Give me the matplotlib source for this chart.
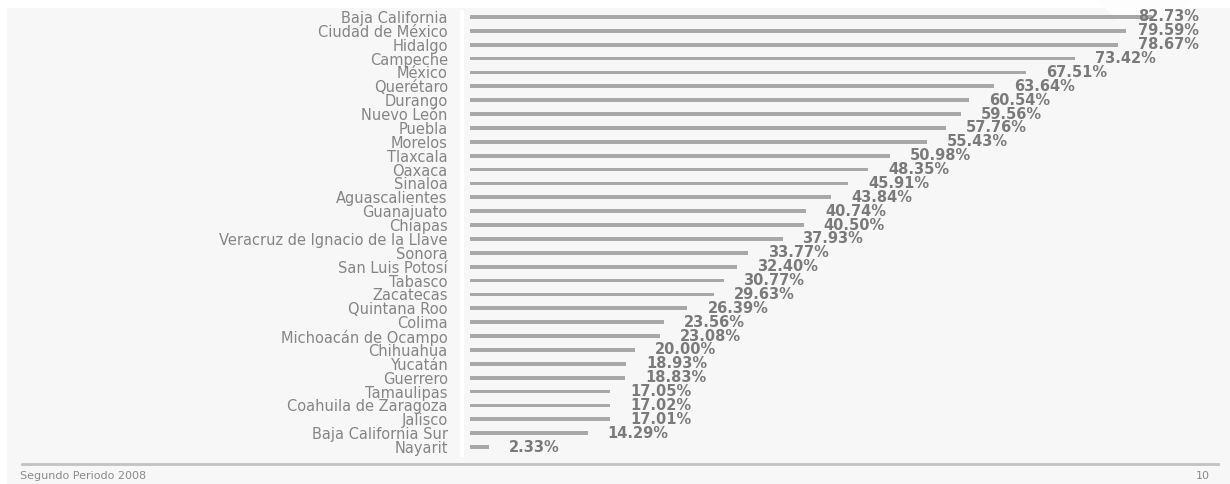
import matplotlib.pyplot as plt
from matplotlib.patches import Rectangle, Polygon
from matplotlib.lines import Line2D

# ── data ───────────────────────────────────────────────────
estados = [
    'Baja California', 'Ciudad de México', 'Hidalgo', 'Campeche', 'México',
    'Querétaro', 'Durango', 'Nuevo León', 'Puebla', 'Morelos', 'Tlaxcala',
    'Oaxaca', 'Sinaloa', 'Aguascalientes', 'Guanajuato', 'Chiapas',
    'Veracruz de Ignacio de la Llave', 'Sonora', 'San Luis Potosí', 'Tabasco',
    'Zacatecas', 'Quintana Roo', 'Colima', 'Michoacán de Ocampo', 'Chihuahua',
    'Yucatán', 'Guerrero', 'Tamaulipas', 'Coahuila de Zaragoza', 'Jalisco',
    'Baja California Sur', 'Nayarit',
]
porcentajes = [
    82.73, 79.59, 78.67, 73.42, 67.51, 63.64, 60.54, 59.56, 57.76, 55.43,
    50.98, 48.35, 45.91, 43.84, 40.74, 40.50, 37.93, 33.77, 32.40, 30.77,
    29.63, 26.39, 23.56, 23.08, 20.00, 18.93, 18.83, 17.05, 17.02, 17.01,
    14.29, 2.33,
]
pie_izq = 'Segundo Periodo 2008'
pie_der = '10'

W, H = 1230, 484
fig = plt.figure(figsize=(W / 100, H / 100), dpi=100, facecolor='white')

# light grey slide background
fig.patches.append(Rectangle((7 / W, 0), 1, 1 - 8 / H, transform=fig.transFigure,
                             facecolor='#f7f7f7', edgecolor='none', zorder=-10))
# faint white watermark stroke at the top right
fig.patches.append(Polygon([(1097 / W, 1), (1190 / W, 1), (1172 / W, 1 - 20 / H),
                            (1117 / W, 1 - 20 / H)], closed=True,
                           transform=fig.transFigure, facecolor='#fdfdfd',
                           edgecolor='none', zorder=-5))

ax = fig.add_axes([470 / W, 30 / H, 755 / W, 444 / H])
ax.set_facecolor('none')
y = list(range(len(estados)))
ax.barh(y, porcentajes, height=0.27, color='#a8a8a8', edgecolor='none')

ax.set_xlim(0, 755 / 8.24)
ax.set_ylim(len(estados) - 0.5, -0.5)
ax.set_yticks(y)
ax.set_yticklabels(estados, fontsize=10.5, color='#858585')
ax.tick_params(axis='y', length=0, pad=16)
ax.set_xticks([])
for s in ax.spines.values():
    s.set_visible(False)

# value labels, kept inside the slide on the right
off = 20 / 8.24
cap = (1138 - 470) / 8.24
for yi, v in zip(y, porcentajes):
    ax.text(min(v + off, cap), yi, f'{v:.2f}%', ha='left', va='center',
            fontsize=10.5, fontweight='bold', color='#7a7a7a')

# faint axis strip
fig.add_artist(Line2D([462 / W, 462 / W], [1 - 12 / H, 1 - 455 / H],
                      transform=fig.transFigure, color='white', lw=3))
# footer separator + texts
fig.add_artist(Line2D([22 / W, 1218 / W], [1 - 464 / H, 1 - 464 / H],
                      transform=fig.transFigure, color='#c2c2c2', lw=2))
fig.text(20 / W, 1 - 476 / H, pie_izq, fontsize=8, color='#8a8a8a',
         ha='left', va='center')
fig.text(1210 / W, 1 - 476 / H, pie_der, fontsize=8, color='#8a8a8a',
         ha='right', va='center')

fig.savefig('out.png', dpi=100, facecolor=fig.get_facecolor())
